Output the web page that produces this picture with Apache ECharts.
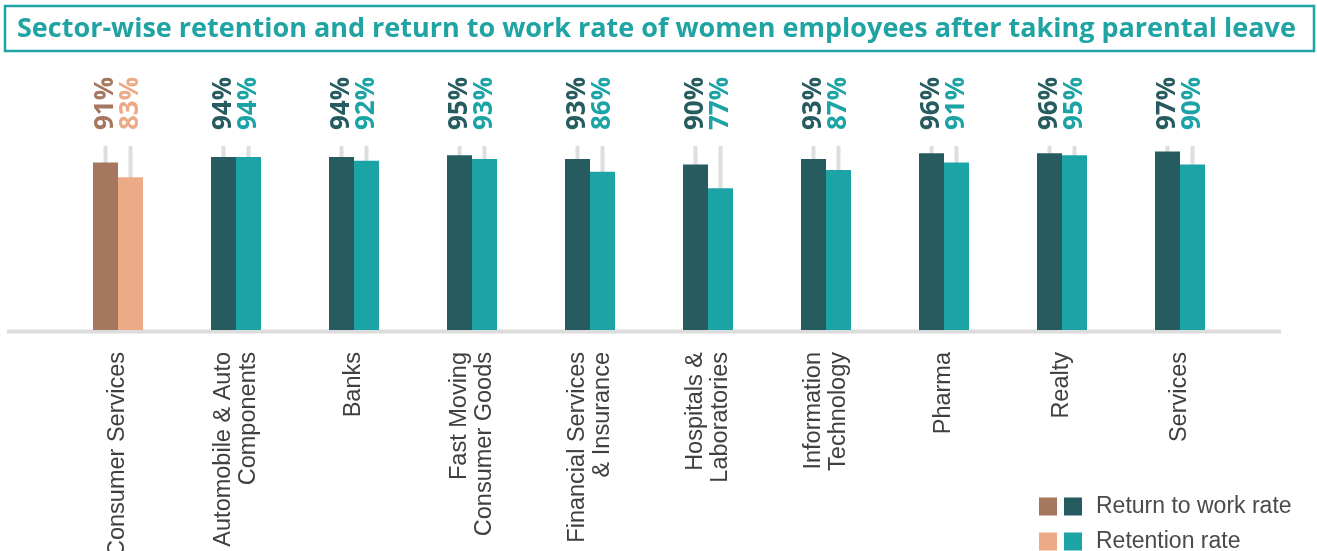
<!DOCTYPE html>
<html>
<head>
<meta charset="utf-8">
<script src="https://cdn.jsdelivr.net/npm/echarts@6/dist/echarts.min.js"></script>
<style>
  html, body { margin: 0; padding: 0; background: #ffffff; }
  #chart { width: 1317px; height: 551px; }
</style>
</head>
<body>
<div id="chart"></div>
<script>
// Sector labels (line breaks as printed under the axis)
const categories = [
  'Consumer Services',
  'Automobile & Auto\nComponents',
  'Banks',
  'Fast Moving\nConsumer Goods',
  'Financial Services\n& Insurance',
  'Hospitals &\nLaboratories',
  'Information\nTechnology',
  'Pharma',
  'Realty',
  'Services'
];

// Percentages of women employees after parental leave
const returnToWorkRate = [91, 94, 94, 95, 93, 90, 93, 96, 96, 97];
const retentionRate    = [83, 94, 92, 93, 86, 77, 87, 91, 95, 90];

// Full-scale reference track drawn behind every bar
const fullScale = 100;

// Palette
const DARK_TEAL = '#265C60';
const TEAL      = '#1CA3A6';
const BROWN     = '#A4775E';
const PEACH     = '#ECAA86';
const TRACK     = '#DEDEDE';
const HIGHLIGHT_INDEX = 0; // first sector uses the warm palette

function barData(values, normal, warm) {
  return values.map((v, i) => ({
    value: v,
    itemStyle: { color: i === HIGHLIGHT_INDEX ? warm : normal }
  }));
}

function trackData(values, normal, warm) {
  return values.map((v, i) => ({
    value: fullScale,
    pct: v,
    label: { color: i === HIGHLIGHT_INDEX ? warm : normal }
  }));
}

const valueLabel = {
  show: true,
  position: 'top',
  distance: 16,
  rotate: 90,
  align: 'left',
  verticalAlign: 'middle',
  fontFamily: 'Open Sans',
  fontWeight: 'bold',
  fontSize: 26,
  formatter: p => p.data.pct + '%'
};

// Legend rows: two swatches (warm + cool) followed by the series name
function legendRow(name, warm, cool, top) {
  return {
    orient: 'vertical',
    left: 1039,
    top: top,
    padding: 0,
    itemWidth: 0,
    itemHeight: 0,
    itemGap: 0,
    icon: 'rect',
    selectedMode: false,
    data: [name],
    formatter: n => '{w| }{g| }{c| }{s| }{t|' + n + '}',
    textStyle: {
      padding: [0, 0, 0, -5],
      rich: {
        w: { width: 18, height: 18, backgroundColor: warm },
        c: { width: 18, height: 18, backgroundColor: cool },
        g: { width: 7 },
        s: { width: 14 },
        t: { fontFamily: 'Liberation Sans', fontSize: 23, color: '#4A4A4A', lineHeight: 24 }
      }
    }
  };
}

const chart = echarts.init(document.getElementById('chart'), null, { renderer: 'canvas' });

chart.setOption({
  animation: false,
  backgroundColor: '#ffffff',
  title: {
    text: 'Sector-wise retention and return to work rate of women employees after taking parental leave',
    left: 17,
    top: 16,
    padding: 0,
    textStyle: {
      color: '#1FA3A3',
      fontFamily: 'Open Sans',
      fontWeight: 'bold',
      fontSize: 27
    }
  },
  graphic: [
    {
      type: 'rect',
      shape: { x: 5, y: 6, width: 1309, height: 45 },
      style: { fill: 'none', stroke: '#1FA3A3', lineWidth: 2.5 },
      z: 0
    },
    {
      type: 'line',
      shape: { x1: 7, y1: 331.5, x2: 1281, y2: 331.5 },
      style: { stroke: '#DCDCDC', lineWidth: 4 },
      z: 0
    }
  ],
  legend: [
    legendRow('Return to work rate', BROWN, DARK_TEAL, 495),
    legendRow('Retention rate', PEACH, TEAL, 530)
  ],
  grid: {
    left: 59, right: 78, top: 146, bottom: 221,
    containLabel: false,
    outerBoundsMode: 'none'
  },
  xAxis: [
    {
      type: 'category',
      data: categories,
      axisLine: { show: false },
      axisTick: { show: false },
      axisLabel: {
        interval: 0,
        rotate: 90,
        margin: 22,
        fontFamily: 'Liberation Sans',
        fontSize: 23.5,
        lineHeight: 25,
        color: '#404040'
      }
    },
    {
      type: 'category',
      data: categories,
      show: false
    }
  ],
  yAxis: {
    type: 'value',
    min: 0,
    max: fullScale,
    show: false,
    splitLine: { show: false }
  },
  series: [
    {
      name: 'Return to work rate',
      type: 'bar',
      xAxisIndex: 0,
      barWidth: 25,
      barGap: '0%',
      z: 3,
      itemStyle: { color: DARK_TEAL },
      data: barData(returnToWorkRate, DARK_TEAL, BROWN)
    },
    {
      name: 'Retention rate',
      type: 'bar',
      xAxisIndex: 0,
      barWidth: 25,
      barGap: '0%',
      z: 3,
      itemStyle: { color: TEAL },
      data: barData(retentionRate, TEAL, PEACH)
    },
    {
      name: 'trackReturn',
      type: 'bar',
      xAxisIndex: 1,
      barWidth: 4,
      barGap: '525%',
      z: 1,
      itemStyle: { color: TRACK },
      label: valueLabel,
      data: trackData(returnToWorkRate, DARK_TEAL, BROWN)
    },
    {
      name: 'trackRetention',
      type: 'bar',
      xAxisIndex: 1,
      barWidth: 4,
      barGap: '525%',
      z: 1,
      itemStyle: { color: TRACK },
      label: valueLabel,
      data: trackData(retentionRate, TEAL, PEACH)
    }
  ]
});
</script>
</body>
</html>
